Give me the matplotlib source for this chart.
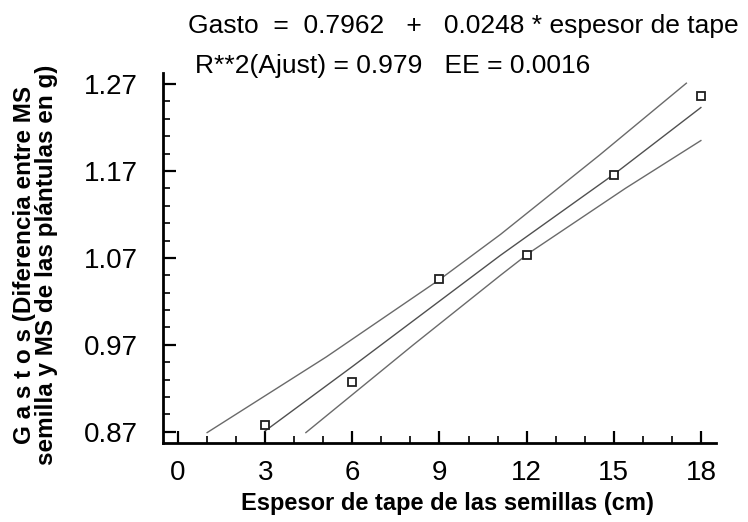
import matplotlib
matplotlib.use("Agg")
import matplotlib.pyplot as plt
from matplotlib.ticker import MultipleLocator, FixedLocator

# datos
espesor = [3, 6, 9, 12, 15, 18]
gasto = [0.8777, 0.9275, 1.0454, 1.0733, 1.1654, 1.2563]

ajuste_x = [3.0, 6.0, 11.1, 15.0, 18.0]
ajuste_y = [0.871, 0.945, 1.073, 1.166, 1.243]

sup_x = [1.0, 5.1, 9.0, 11.1, 14.5, 17.5]
sup_y = [0.869, 0.956, 1.045, 1.097, 1.188, 1.271]

inf_x = [4.4, 8.1, 11.1, 12.1, 15.4, 18.0]
inf_y = [0.869, 0.970, 1.050, 1.076, 1.150, 1.205]

yticks = [0.87, 0.97, 1.07, 1.17, 1.27]
xticks = [0, 3, 6, 9, 12, 15, 18]

plt.rcParams['font.family'] = ['Liberation Sans', 'DejaVu Sans']

fig = plt.figure(figsize=(7.48, 5.22), dpi=100)
ax = fig.add_axes([0.2175, 0.1513, 0.7397, 0.7088])

ax.plot(sup_x, sup_y, color='#6a6a6a', lw=1.0)
ax.plot(inf_x, inf_y, color='#6a6a6a', lw=1.0)
ax.plot(ajuste_x, ajuste_y, color='#505050', lw=1.0)
ax.plot(espesor, gasto, 's', ms=6, mfc='white', mec='#202020', mew=1.3)

ax.set_xlim(-0.53, 18.52)
ax.set_ylim(0.857, 1.2827)

for s in ['top', 'right']:
    ax.spines[s].set_visible(False)
for s in ['left', 'bottom']:
    ax.spines[s].set_linewidth(2.0)

ax.set_xticks(xticks)
ax.set_yticks(yticks)
ax.set_yticklabels(['%.2f' % v for v in yticks])
ax.xaxis.set_minor_locator(MultipleLocator(1))
ax.yaxis.set_minor_locator(FixedLocator([0.89, 0.91, 0.93, 0.95, 0.99, 1.01, 1.03, 1.05,
                                         1.09, 1.11, 1.13, 1.15, 1.19, 1.21, 1.23, 1.25]))
ax.tick_params(which='major', direction='in', length=9, width=1.6, labelsize=20)
ax.tick_params(which='minor', direction='in', length=5, width=1.2)
ax.tick_params(axis='y', which='major', pad=18)
ax.tick_params(axis='x', which='major', pad=12)

fig.text(0.251, 0.951, 'Gasto  =  0.7962   +   0.0248 * espesor de tape',
         fontsize=19, ha='left', va='center')
fig.text(0.261, 0.874, 'R**2(Ajust) = 0.979   EE = 0.0016',
         fontsize=19, ha='left', va='center')

fig.text(0.598, 0.036, 'Espesor de tape de las semillas (cm)',
         fontsize=17, fontweight='bold', ha='center', va='center')
fig.text(0.048, 0.492, 'G a s t o s (Diferencia entre MS\nsemilla y MS de las plántulas en g)',
         fontsize=17.5, fontweight='bold', rotation=90, ha='center', va='center',
         multialignment='center', linespacing=0.95)

fig.savefig('out.png', dpi=100)
